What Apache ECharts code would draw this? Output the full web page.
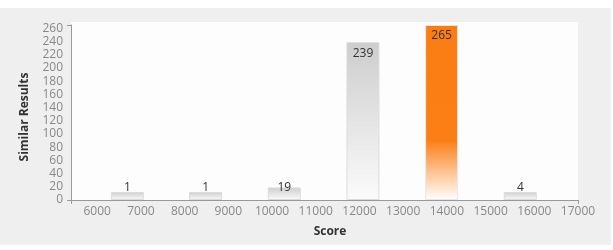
<!DOCTYPE html>
<html>
<head>
<meta charset="utf-8">
<script src="https://cdn.jsdelivr.net/npm/echarts@6/dist/echarts.min.js"></script>
<style>
html,body{margin:0;padding:0;background:#fff;}
#c{width:613px;height:250px;}
</style>
</head>
<body>
<div id="c"></div>
<script>
const binCenters = [6690, 8480, 10280, 12080, 13880, 15680];
const counts = [1, 1, 19, 239, 265, 4];
const highlightIndex = 4;
const xTickLabels = [6000, 7000, 8000, 9000, 10000, 11000, 12000, 13000, 14000, 15000, 16000, 17000];
const yTickLabels = [0, 20, 40, 60, 80, 100, 120, 140, 160, 180, 200, 220, 240, 260];

const grayFill = new echarts.graphic.LinearGradient(0, 0, 0, 1, [
  {offset: 0, color: '#cdcdcd'},
  {offset: 1, color: '#fbfbfb'}
]);
const orangeFill = new echarts.graphic.LinearGradient(0, 0, 0, 1, [
  {offset: 0, color: '#fb7d12'},
  {offset: 0.66, color: '#fb7f16'},
  {offset: 1, color: '#ffffff'}
]);

const data = binCenters.map((x, i) => {
  const v = counts[i];
  const big = v > 40;
  return {
    value: [x, v],
    itemStyle: {
      color: i === highlightIndex ? orangeFill : grayFill,
      borderColor: i === highlightIndex ? '#e8e8e8' : '#dcdcdc',
      borderWidth: 1
    },
    label: big ? {position: 'insideTop', distance: 5} : {position: 'insideBottom', distance: 6}
  };
});

const chart = echarts.init(document.getElementById('c'), null, {renderer: 'canvas'});
chart.setOption({
  animation: false,
  backgroundColor: '#ffffff',
  graphic: [
    {type: 'rect', z: -10, shape: {x: 0, y: 8, width: 611, height: 237}, style: {fill: '#efefef'}},
    {type: 'rect', z: -9, shape: {x: 71, y: 22, width: 507, height: 178}, style: {fill: '#fdfdfd'}}
  ],
  grid: {left: 71, right: 35, top: 25, bottom: 50, containLabel: false},
  xAxis: {
    type: 'value',
    min: 5400,
    max: 17000,
    name: 'Score',
    nameLocation: 'middle',
    nameGap: 26,
    nameTextStyle: {fontFamily: 'Open Sans', fontWeight: 'bold', fontSize: 12, color: '#333', padding: [0, 0, 0, 11]},
    axisLine: {show: true, lineStyle: {color: '#999', width: 1}},
    axisTick: {show: true, length: 4, lineStyle: {color: '#999'}, customValues: [5400, 17000]},
    axisLabel: {customValues: xTickLabels, formatter: v => String(v), margin: 6, fontFamily: 'Open Sans', fontSize: 12, color: '#888'},
    splitLine: {show: false}
  },
  yAxis: {
    type: 'value',
    min: 0,
    max: 265,
    name: 'Similar Results',
    nameLocation: 'middle',
    nameRotate: 90,
    nameGap: 40,
    nameTextStyle: {fontFamily: 'Open Sans', fontWeight: 'bold', fontSize: 12, color: '#333', padding: [0, 9, 0, 0]},
    axisLine: {show: true, lineStyle: {color: '#999', width: 1}},
    axisTick: {show: true, length: 4, lineStyle: {color: '#999'}, customValues: [0, 265]},
    axisLabel: {customValues: yTickLabels, formatter: v => String(v), margin: 8, fontFamily: 'Open Sans', fontSize: 12, color: '#888'},
    splitLine: {show: false}
  },
  series: [{
    type: 'bar',
    data: data,
    barWidth: 33,
    barMinHeight: 8,
    label: {show: true, fontFamily: 'Open Sans', fontSize: 12, color: '#333', formatter: p => p.value[1]}
  }]
});
</script>
</body>
</html>
